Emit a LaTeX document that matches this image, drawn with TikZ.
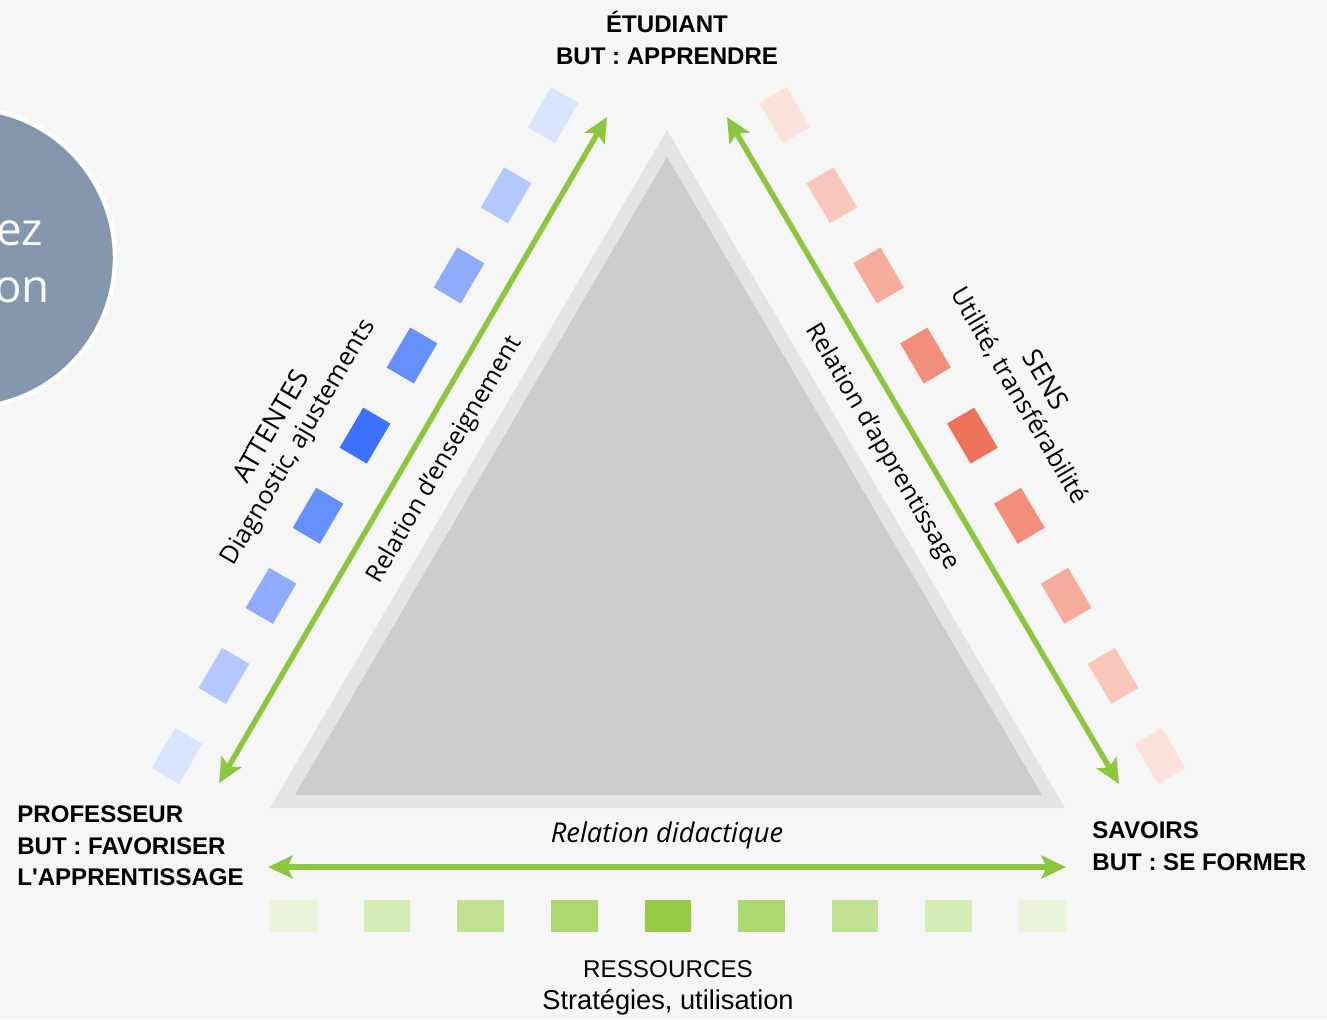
\documentclass[tikz,border=0pt]{standalone}
\usepackage{fontspec}
\setmainfont{Open Sans}
\newfontfamily\headfont{Liberation Sans}
\usetikzlibrary{arrows.meta}

\definecolor{fond}{HTML}{F6F6F6}
\definecolor{ardoise}{HTML}{8497AD}
\definecolor{triext}{HTML}{E4E4E4}
\definecolor{triint}{HTML}{CCCCCC}
\definecolor{vert}{HTML}{8DC63F}
\definecolor{bleuA}{HTML}{3C72FF}
\definecolor{bleuB}{HTML}{6690FF}
\definecolor{bleuC}{HTML}{8FACFF}
\definecolor{bleuD}{HTML}{B4C8FF}
\definecolor{bleuE}{HTML}{DAE4FF}
\definecolor{rougeA}{HTML}{EF725A}
\definecolor{rougeB}{HTML}{F28F7B}
\definecolor{rougeC}{HTML}{F5AC9D}
\definecolor{rougeD}{HTML}{F8C6BB}
\definecolor{rougeE}{HTML}{FCE1DC}
\definecolor{vertA}{HTML}{98CB45}
\definecolor{vertB}{HTML}{ADD870}
\definecolor{vertC}{HTML}{C1E293}
\definecolor{vertD}{HTML}{D5EBB5}
\definecolor{vertE}{HTML}{EAF4DA}

\newcommand\grand{\fontsize{15.2}{17}\selectfont}
\newcommand\moyen{\fontsize{14.3}{17}\selectfont}

\tikzset{
  pole/.style={font=\headfont\bfseries\fontsize{13.7}{18}\selectfont, align=left, inner sep=0pt},
  cote/.style={font=\moyen, align=center, inner sep=0pt},
  relation/.style={font=\fontsize{14}{16}\selectfont, inner sep=0pt},
  pave/.style={minimum width=0.93cm, minimum height=0.63cm, inner sep=0pt},
  lien/.style={line width=3.1pt, draw=vert,
    {Stealth[length=14pt,width=13pt,inset=3pt]}-{Stealth[length=14pt,width=13pt,inset=3pt]}}
}

\begin{document}
\begin{tikzpicture}[x=0.02cm,y=-0.02cm]

\useasboundingbox (0,0) rectangle (1327,1019);
\clip (0,0) rectangle (1327,1019);
\fill [fond] (0,0) rectangle (1327,1019);

% bulle a gauche
\node [circle, fill=ardoise, draw=white, line width=2.5pt, minimum size=6cm, inner sep=0pt] (bulle) at (-35,258) {};
\node [anchor=base east, inner sep=0pt, text=white!95!ardoise, font=\fontsize{26}{30}\selectfont] (bulleA) at (43,245) {ez};
\node [anchor=base east, inner sep=0pt, text=white!95!ardoise, font=\fontsize{26}{30}\selectfont] (bulleB) at (50,302) {on};

% triangle
\fill [triext] (667,130) -- (270,808) -- (1065,808) -- cycle;
\fill [triint] (667,157) -- (295,795) -- (1042,795) -- cycle;

% paves
\foreach \i/\c in {0/bleuE,1/bleuD,2/bleuC,3/bleuB,4/bleuA,5/bleuB,6/bleuC,7/bleuD,8/bleuE}
  \node [pave, fill=\c, rotate=59.6] (att\i) at ({177+47*\i},{756-80.1*\i}) {};
\foreach \i/\c in {0/rougeE,1/rougeD,2/rougeC,3/rougeB,4/rougeA,5/rougeB,6/rougeC,7/rougeD,8/rougeE}
  \node [pave, fill=\c, rotate=-59.6] (sens\i) at ({1160-46.9*\i},{756-80.1*\i}) {};
\foreach \i/\c in {0/vertE,1/vertD,2/vertC,3/vertB,4/vertA,5/vertB,6/vertC,7/vertD,8/vertE}
  \node [pave, fill=\c] (res\i) at ({293.5+93.6*\i},916) {};

% poles
\node [pole, align=center] (etudiant) at (667,38) {ÉTUDIANT\\BUT : APPRENDRE};
\node [pole, anchor=west] (professeur) at (17,846) {PROFESSEUR\\BUT : FAVORISER\\L'APPRENTISSAGE};
\node [pole, anchor=west] (savoirs) at (1092,846) {SAVOIRS\\BUT : SE FORMER};

% fleches
\coordinate (etuG) at (607,117);
\coordinate (profH) at (219,783);
\coordinate (etuD) at (727,117);
\coordinate (savH) at (1119,784);
\coordinate (profD) at (268,867);
\coordinate (savG) at (1066,867);
\draw [lien] (etuG) -- (profH);
\draw [lien] (etuD) -- (savH);
\draw [lien] (profD) -- (savG);

% textes
\node [relation, rotate=59.6] (ens) at (445,460) {Relation d'enseignement};
\node [relation, rotate=-59.6] (app) at (882,447) {Relation d'apprentissage};
\node [relation, font=\itshape\fontsize{15.5}{18}\selectfont] (did) at (667,835) {Relation didactique};
\node [cote, rotate=59.6] (attentes) at (286,435) {{\grand ATTENTES}\\Diagnostic, ajustements};
\node [cote, rotate=-59.6] (sens) at (1032,388) {{\grand SENS}\\Utilité, transférabilité};
\node [cote, font=\headfont\fontsize{15.5}{18}\selectfont] (ressources) at (668,988) {{\fontsize{13.8}{18}\selectfont RESSOURCES}\\Stratégies, utilisation};

\end{tikzpicture}
\end{document}
